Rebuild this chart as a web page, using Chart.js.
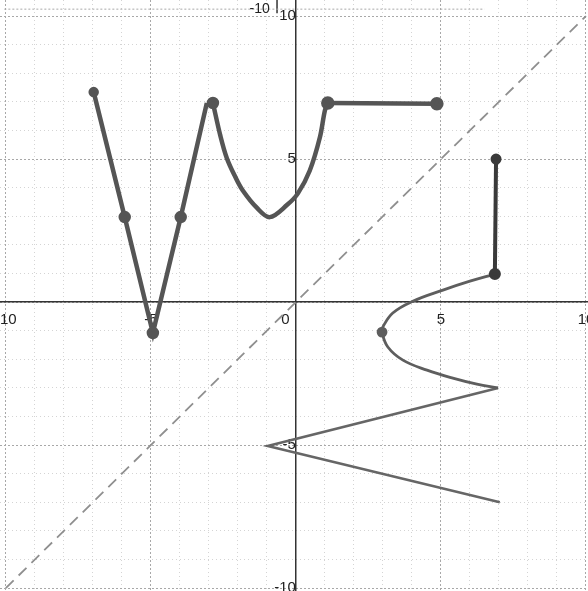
<!DOCTYPE html>
<html>
<head>
<meta charset="utf-8">
<script src="https://cdn.jsdelivr.net/npm/chart.js@4/dist/chart.umd.min.js"></script>
<style>
    html, body { margin: 0; padding: 0; background: #fff; }
    canvas { display: block; }
</style>
</head>
<body>
<canvas id="chart" width="588" height="591"></canvas>
<script>
// axis window of the scanned graph paper
const xRange = [-10.2, 10.07];
const yRange = [-10.1, 10.56];

// y = x reference line
const diagX = [-10, 10];
const diagY = [-10, 10];

// the "V" on the left
const vX = [-6.97, -5.9, -4.93, -3.97, -3.07];
const vY = [7.34, 2.97, -1.08, 2.97, 6.96];

// the bowl next to the y axis
const bowlX = [-2.86, -2.6, -2.38, -2.1, -1.83, -1.34, -0.9, -0.3, 0.07, 0.48, 0.83, 1.0, 1.1];
const bowlY = [6.96, 5.8, 5.03, 4.4, 3.9, 3.29, 2.97, 3.4, 3.8, 4.6, 5.77, 6.7, 6.96];

// flat segment at y = 7
const flatX = [1.1, 4.86];
const flatY = [6.96, 6.93];

// vertical segment at x = 7
const vertX = [6.9, 6.86];
const vertY = [5.0, 0.98];

// sideways parabola
const paraX = [6.86, 6.0, 5.07, 4.03, 3.34, 3.0, 2.97, 3.17, 3.69, 4.52, 5.41, 6.24, 6.97];
const paraY = [0.98, 0.73, 0.42, 0.03, -0.38, -0.87, -1.05, -1.57, -2.03, -2.38, -2.66, -2.87, -3.0];

// zigzag below
const zigX = [6.97, -0.97, 7.03];
const zigY = [-3.0, -5.03, -7.0];

// bits of the neighbouring sheet showing at the top
const edgeX = [-10.05, 6.5];
const edgeY = [10.24, 10.24];
const stubX = [-0.65, -0.65];
const stubY = [10.1, 10.6];

const pts = (xs, ys) => xs.map((x, i) => ({x, y: ys[i]}));

const lineSet = (data, color, width, extra) => Object.assign({
    data,
    borderColor: color,
    backgroundColor: color,
    borderWidth: width,
    pointRadius: 0,
    showLine: true,
    tension: 0,
    fill: false
}, extra || {});

const topLabel = {
    id: 'topLabel',
    afterDraw(chart) {
        const {ctx, scales: {x, y}} = chart;
        ctx.save();
        ctx.font = '14px "Liberation Sans", Arial, sans-serif';
        ctx.fillStyle = '#222';
        ctx.textAlign = 'right';
        ctx.textBaseline = 'middle';
        ctx.fillText('-10', x.getPixelForValue(-0.9), y.getPixelForValue(10.25));
        ctx.restore();
    }
};

const gridColor = v => (Math.abs(v % 5) < 1e-6 ? '#a8a8a8' : '#d4d4d4');
const gridDash = v => (Math.abs(v % 5) < 1e-6 ? [2, 2] : [1, 3]);

// labels may hang over the canvas edge, like on the scan
const noPadding = scale => {
    scale.paddingLeft = 0;
    scale.paddingRight = 0;
    scale.paddingTop = 0;
    scale.paddingBottom = 0;
};

new Chart(document.getElementById('chart'), {
    type: 'scatter',
    data: {
        datasets: [
            lineSet(pts(edgeX, edgeY), '#a8a8a8', 1, {borderDash: [2, 2]}),
            lineSet(pts(stubX, stubY), '#333', 1.5),
            lineSet(pts(diagX, diagY), '#8f8f8f', 1.8, {borderDash: [11, 7]}),
            lineSet(pts(vX, vY), '#555', 4.5, {pointRadius: [3, 4, 4, 4, 0]}),
            lineSet(pts(bowlX, bowlY), '#555', 4.5, {
                tension: 0.35,
                pointRadius: bowlX.map((_, i) => (i === 0 ? 4 : 0))
            }),
            lineSet(pts(flatX, flatY), '#555', 4.5, {pointRadius: 4.5}),
            lineSet(pts(vertX, vertY), '#3a3a3a', 4, {pointRadius: [3.5, 4]}),
            lineSet(pts(paraX, paraY), '#5e5e5e', 2.8, {
                tension: 0.4,
                pointRadius: paraX.map((_, i) => (i === 6 ? 4 : 0))
            }),
            lineSet(pts(zigX, zigY), '#666', 2.6)
        ]
    },
    options: {
        responsive: false,
        devicePixelRatio: 1,
        animation: false,
        layout: {padding: 0, autoPadding: false},
        plugins: {
            legend: {display: false},
            tooltip: {enabled: false}
        },
        scales: {
            x: {
                type: 'linear',
                min: xRange[0],
                max: xRange[1],
                position: {y: 0},
                afterFit: noPadding,
                border: {
                    color: '#333',
                    width: 1.5,
                    dash: ctx => (ctx.tick ? gridDash(ctx.tick.value) : [])
                },
                grid: {
                    color: ctx => gridColor(ctx.tick.value),
                    lineWidth: 1,
                    drawTicks: false
                },
                ticks: {
                    stepSize: 1,
                    includeBounds: false,
                    autoSkip: false,
                    maxRotation: 0,
                    padding: 9,
                    color: '#222',
                    font: {family: '"Liberation Sans", Arial, sans-serif', size: 15},
                    callback: v => {
                        if (v === 0) {
                            return '0     ';
                        }
                        return v % 5 === 0 ? String(v) : '';
                    }
                }
            },
            y: {
                type: 'linear',
                min: yRange[0],
                max: yRange[1],
                position: {x: 0},
                afterFit: noPadding,
                border: {
                    color: '#333',
                    width: 1.5,
                    dash: ctx => (ctx.tick ? gridDash(ctx.tick.value) : [])
                },
                grid: {
                    color: ctx => gridColor(ctx.tick.value),
                    lineWidth: 1,
                    drawTicks: false
                },
                ticks: {
                    stepSize: 1,
                    includeBounds: false,
                    autoSkip: false,
                    padding: 4,
                    color: '#222',
                    font: {family: '"Liberation Sans", Arial, sans-serif', size: 15},
                    callback: v => (v !== 0 && v % 5 === 0 ? String(v) : '')
                }
            }
        }
    },
    plugins: [topLabel]
});
</script>
</body>
</html>
